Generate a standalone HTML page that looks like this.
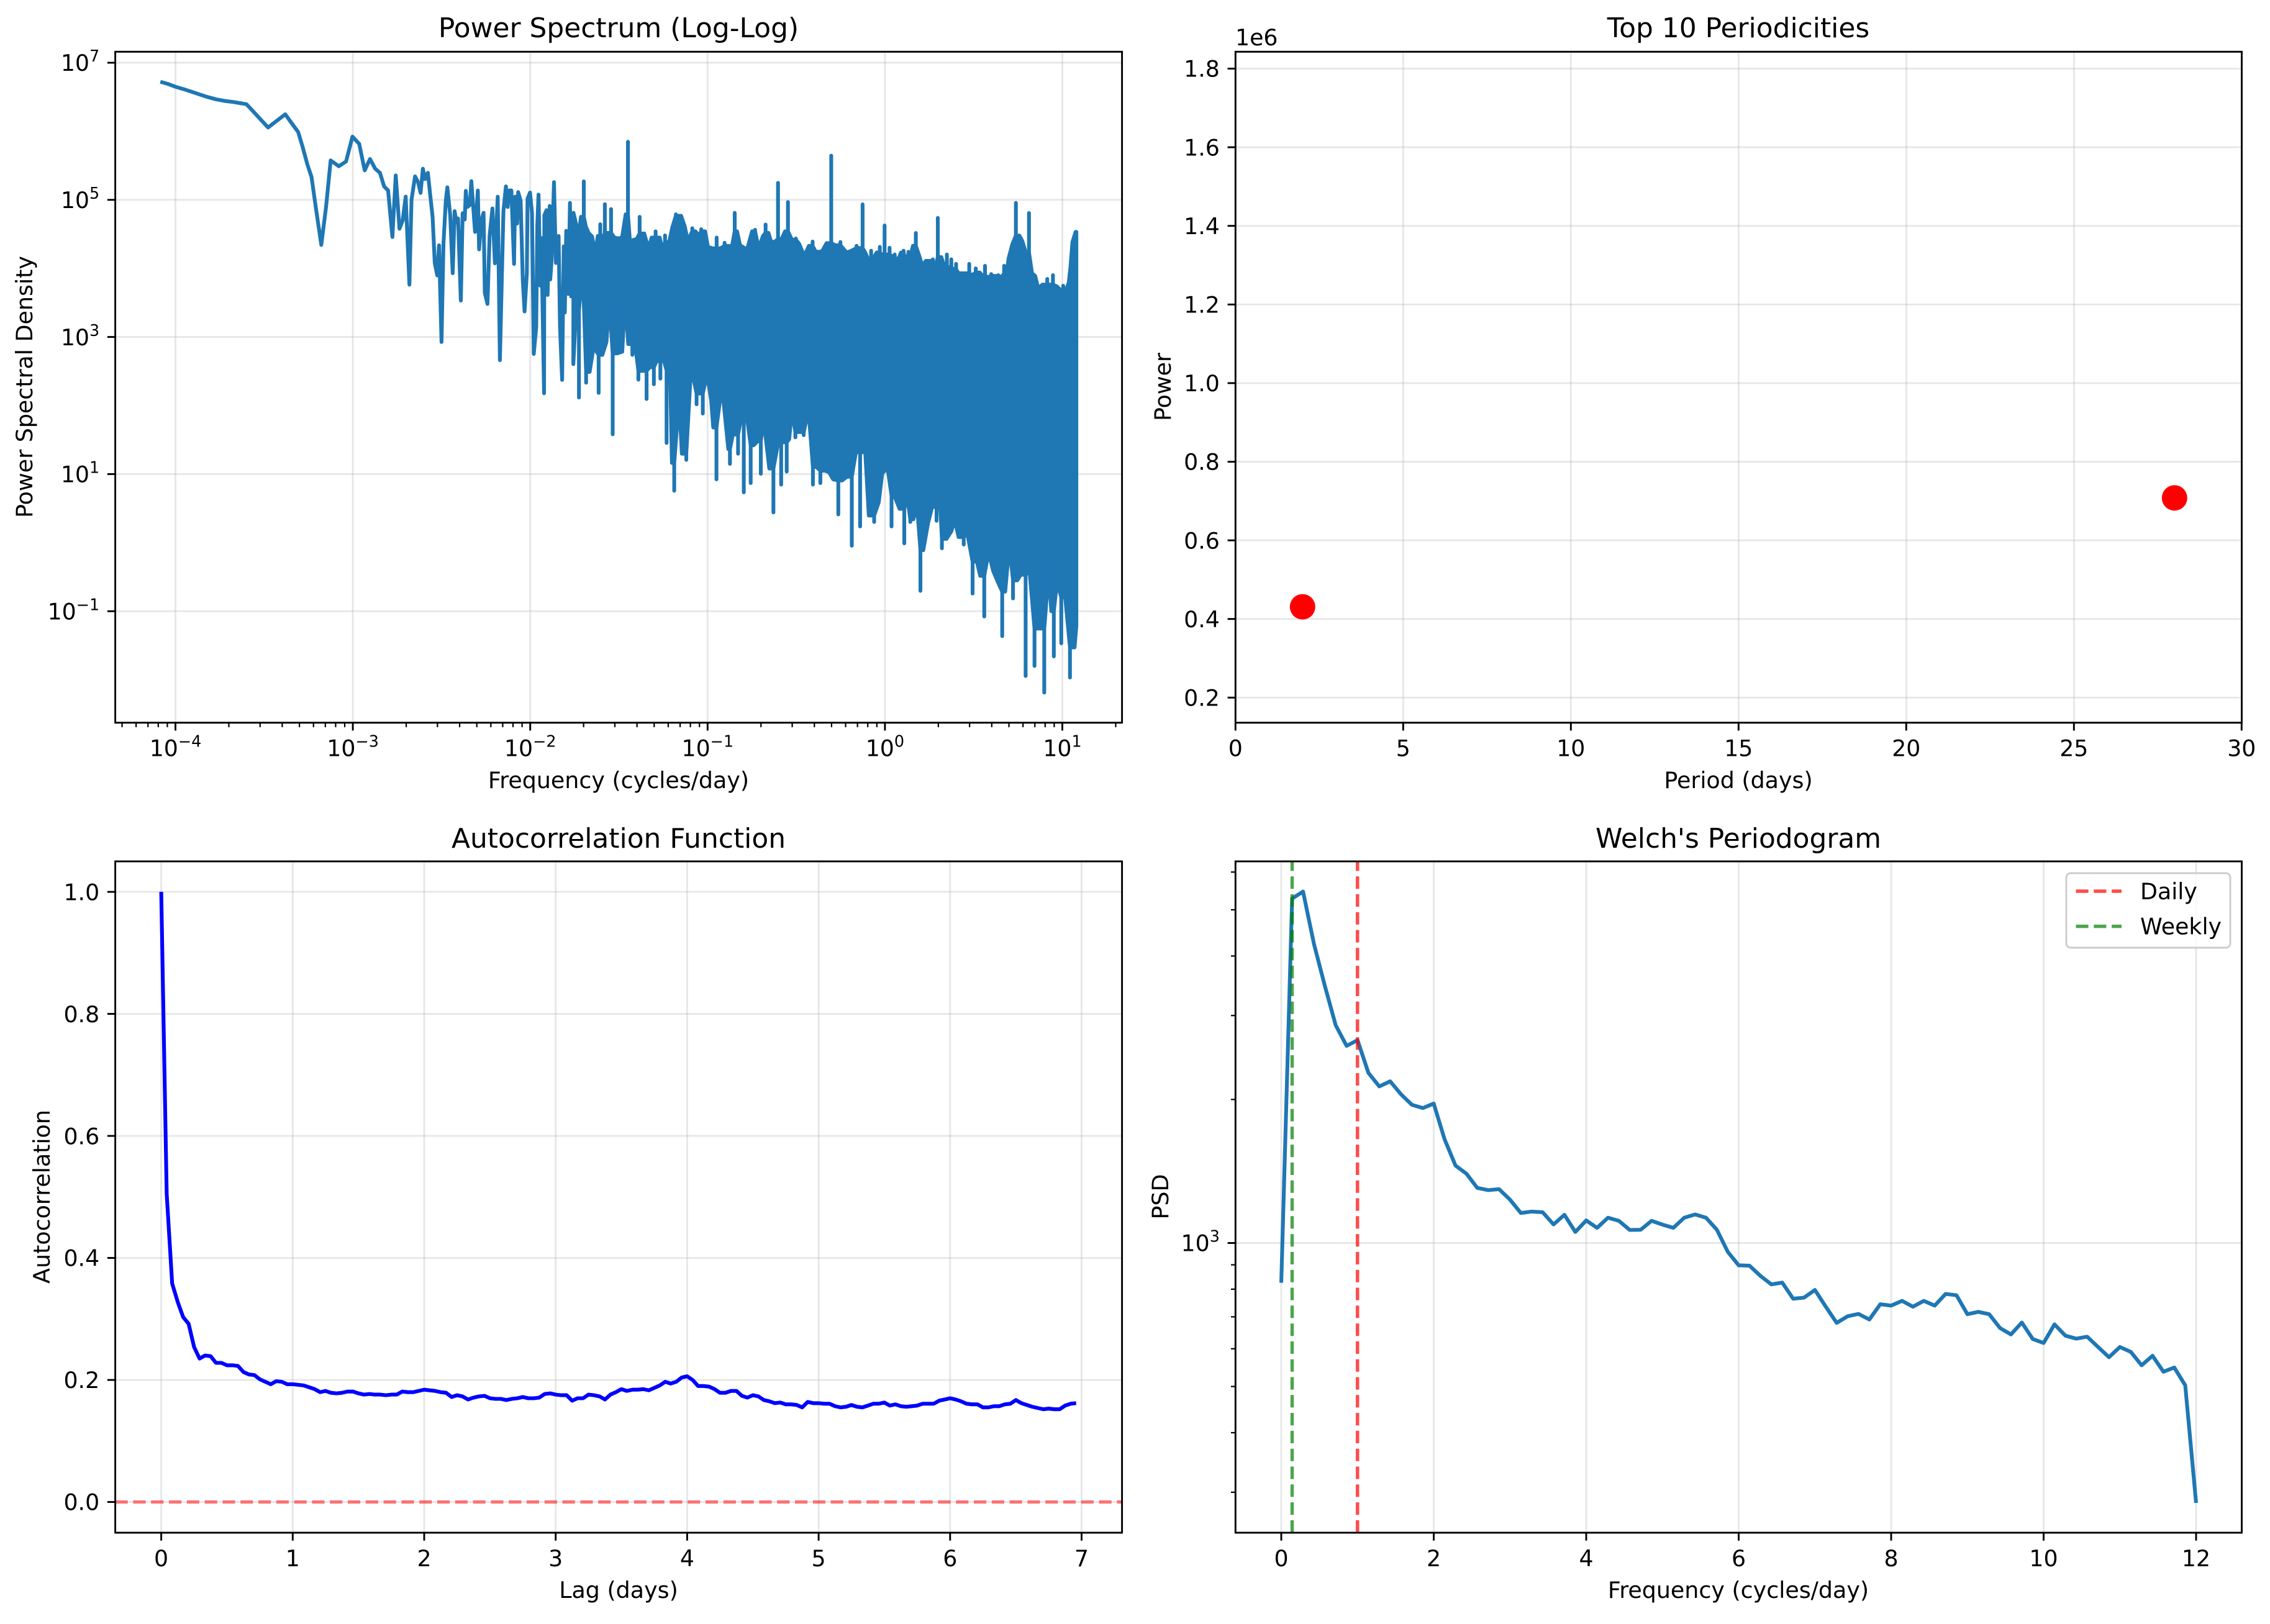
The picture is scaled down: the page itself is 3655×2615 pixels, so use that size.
<!DOCTYPE html>
<html lang="en">
<head>
<meta charset="utf-8">
<title>Spectral analysis charts</title>
<style>
html,body{margin:0;padding:0;background:#fff}
svg{display:block}
text{font-family:"DejaVu Sans","Liberation Sans",sans-serif;fill:#000}
.tick{font-size:36.3px}
.axis-label{font-size:36.4px}
.title{font-size:43.9px}
</style>
</head>
<body>
<svg xmlns="http://www.w3.org/2000/svg" width="3655" height="2615" viewBox="0 0 3655 2615">
<rect x="0" y="0" width="3655" height="2615" fill="#fff"/>

<g>
<g id="p1"></g>
<text class="title" x="996" y="60" text-anchor="middle">Power Spectrum (Log-Log)</text>
<text class="axis-label" x="996" y="1269" text-anchor="middle">Frequency (cycles/day)</text>
<text class="axis-label" x="52" y="623" text-anchor="middle" transform="rotate(-90 52 623)">Power Spectral Density</text>
</g>

<g>
<g id="p2"></g>
<text class="title" x="2799" y="60" text-anchor="middle">Top 10 Periodicities</text>
<text class="axis-label" x="2799" y="1269" text-anchor="middle">Period (days)</text>
<text class="axis-label" x="1885" y="623" text-anchor="middle" transform="rotate(-90 1885 623)">Power</text>
<text class="tick" x="1989" y="73">1e6</text>
</g>

<g>
<g id="p3"></g>
<text class="title" x="996" y="1365" text-anchor="middle">Autocorrelation Function</text>
<text class="axis-label" x="996" y="2573" text-anchor="middle">Lag (days)</text>
<text class="axis-label" x="80" y="1927" text-anchor="middle" transform="rotate(-90 80 1927)">Autocorrelation</text>
</g>

<g>
<g id="p4"></g>
<text class="title" x="2799" y="1365" text-anchor="middle">Welch's Periodogram</text>
<text class="axis-label" x="2799" y="2573" text-anchor="middle">Frequency (cycles/day)</text>
<text class="axis-label" x="1881" y="1927" text-anchor="middle" transform="rotate(-90 1881 1927)">PSD</text>
<g>
<rect x="3327" y="1406" width="264" height="120" rx="7" ry="7" fill="#fff" fill-opacity="0.8" stroke="#cccccc" stroke-width="2.9"/>
<line x1="3342.5" y1="1435" x2="3416" y2="1435" stroke="#ff0000" stroke-opacity="0.7" stroke-width="5.44" stroke-dasharray="20.1 8.7"/>
<text class="tick" x="3446" y="1448">Daily</text>
<line x1="3342.5" y1="1491.6" x2="3416" y2="1491.6" stroke="#008000" stroke-opacity="0.7" stroke-width="5.44" stroke-dasharray="20.1 8.7"/>
<text class="tick" x="3446" y="1504.5">Weekly</text>
</g>
</g>
</svg>

<script>
/* ---------- Power spectrum data (log10 frequency, log10 PSD) ---------- */
const spectrumLowFreqLogF = [-4.085,-4.044,-3.997,-3.950,-3.892,-3.822,-3.770,-3.717,-3.670,-3.600,-3.565,-3.478,-3.381,-3.349,-3.308,-3.283,-3.256,-3.233,-3.209,-3.178,-3.151,-3.125,-3.079,-3.038,-3.002,-2.964,-2.933,-2.903,-2.874,-2.847,-2.824,-2.801,-2.777,-2.758,-2.737,-2.719,-2.702,-2.681,-2.669,-2.649,-2.632,-2.618,-2.605,-2.593,-2.577,-2.550,-2.538,-2.524,-2.514,-2.500,-2.489,-2.476,-2.467,-2.451,-2.437,-2.426,-2.416,-2.407,-2.391,-2.381,-2.369,-2.363,-2.354,-2.340,-2.332,-2.311,-2.295,-2.288,-2.276,-2.263,-2.256,-2.241,-2.229,-2.213,-2.199,-2.183,-2.171,-2.155,-2.151,-2.137,-2.127,-2.118,-2.106,-2.091,-2.085,-2.074,-2.068,-2.054,-2.042,-2.032,-2.019,-2.015,-2.001,-1.990,-1.980,-1.966,-1.960,-1.953,-1.943,-1.937,-1.922,-1.920,-1.908,-1.902,-1.890,-1.887,-1.879,-1.866,-1.855,-1.840,-1.832,-1.820,-1.811,-1.805,-1.797,-1.785,-1.776,-1.768];
const spectrumLowFreqLogP = [6.722,6.692,6.647,6.611,6.562,6.502,6.466,6.441,6.426,6.396,6.300,6.055,6.248,6.133,5.989,5.771,5.514,5.333,4.896,4.343,4.896,5.575,5.490,5.560,5.922,5.816,5.430,5.596,5.454,5.394,5.197,5.137,4.458,5.357,4.579,4.699,5.047,3.763,5.001,5.342,5.258,5.101,5.454,5.303,5.394,4.745,4.080,3.899,4.337,2.927,4.352,4.986,5.182,4.775,3.929,4.835,4.669,4.729,3.531,4.805,4.714,5.131,4.896,4.926,5.273,4.533,5.137,4.277,4.699,4.811,3.642,3.482,4.473,4.874,4.074,5.046,2.661,4.382,4.835,5.197,4.896,5.137,5.137,4.065,5.046,4.654,5.113,4.986,3.839,3.371,3.929,5.016,5.107,4.805,2.752,3.144,4.624,5.077,3.748,4.443,2.178,4.775,4.850,3.612,4.911,3.839,4.141,5.258,4.080,4.473,3.144,2.374,4.322,3.356,4.548,3.627,4.956,3.567];

const spectrumUpperLogF = [-1.756,-1.741,-1.727,-1.714,-1.698,-1.686,-1.671,-1.651,-1.634,-1.619,-1.605,-1.593,-1.579,-1.560,-1.544,-1.525,-1.505,-1.482,-1.462,-1.449,-1.435,-1.420,-1.400,-1.383,-1.357,-1.334,-1.315,-1.293,-1.270,-1.254,-1.240,-1.217,-1.198,-1.179,-1.149,-1.128,-1.112,-1.086,-1.068,-1.050,-1.036,-1.014,-0.998,-0.972,-0.949,-0.928,-0.904,-0.881,-0.863,-0.847,-0.834,-0.817,-0.802,-0.778,-0.749,-0.732,-0.712,-0.688,-0.673,-0.657,-0.642,-0.624,-0.603,-0.583,-0.563,-0.547,-0.525,-0.502,-0.484,-0.455,-0.429,-0.408,-0.391,-0.370,-0.353,-0.329,-0.303,-0.280,-0.251,-0.234,-0.216,-0.189,-0.160,-0.144,-0.126,-0.111,-0.093,-0.078,-0.062,-0.047,-0.029,-0.018,-0.002,0.012,0.026,0.041,0.055,0.070,0.090,0.105,0.117,0.132,0.146,0.158,0.174,0.193,0.210,0.230,0.251,0.270,0.283,0.298,0.318,0.333,0.349,0.362,0.374,0.391,0.401,0.415,0.440,0.461,0.475,0.491,0.512,0.534,0.551,0.564,0.584,0.599,0.619,0.639,0.658,0.672,0.686,0.697,0.718,0.738,0.758,0.775,0.794,0.812,0.829,0.847,0.864,0.888,0.915,0.931,0.947,0.970,0.987,1.005,1.022,1.036,1.046,1.057,1.075,1.079];
const spectrumUpperLogP = [4.811,4.644,4.473,4.752,5.270,4.608,4.518,4.464,4.203,4.473,4.644,4.428,4.937,4.518,4.865,4.450,4.437,4.450,4.788,5.847,4.293,4.414,4.428,4.752,4.509,4.293,4.450,4.541,4.450,4.270,4.482,4.383,4.608,4.788,4.766,4.608,4.405,4.586,4.541,4.473,4.572,4.541,4.315,4.293,4.450,4.293,4.374,4.329,4.315,4.811,4.541,4.338,4.315,4.270,4.541,4.563,4.293,4.473,4.640,4.518,4.392,4.383,5.248,4.428,4.541,4.968,4.419,4.437,4.360,4.180,4.329,4.392,4.248,4.239,4.257,4.369,5.644,4.338,4.385,4.286,4.231,4.258,4.330,4.297,4.934,4.231,4.121,4.258,4.165,4.231,4.313,4.203,4.626,4.203,4.302,4.176,4.203,4.093,4.231,4.258,4.121,4.242,4.203,4.330,4.516,4.187,4.038,4.110,4.110,4.132,4.011,4.736,4.165,4.038,4.203,4.011,4.132,3.984,4.066,3.929,3.929,3.929,4.066,3.901,4.000,3.940,3.890,4.038,3.874,3.918,3.890,3.901,3.874,4.038,3.929,4.148,4.352,4.956,4.478,4.396,4.231,4.808,3.929,3.890,3.709,3.764,3.846,3.764,3.901,3.736,3.692,3.747,3.692,3.791,4.022,4.385,4.533,4.533];

const spectrumLowerLogF = [-1.757,-1.741,-1.725,-1.704,-1.685,-1.665,-1.643,-1.614,-1.593,-1.570,-1.554,-1.535,-1.509,-1.481,-1.465,-1.447,-1.424,-1.410,-1.390,-1.368,-1.344,-1.326,-1.303,-1.287,-1.266,-1.251,-1.231,-1.211,-1.201,-1.188,-1.161,-1.145,-1.120,-1.093,-1.062,-1.044,-1.027,-1.003,-0.980,-0.968,-0.950,-0.919,-0.883,-0.874,-0.858,-0.828,-0.811,-0.796,-0.782,-0.757,-0.741,-0.715,-0.700,-0.683,-0.652,-0.629,-0.601,-0.585,-0.572,-0.554,-0.540,-0.525,-0.505,-0.484,-0.458,-0.443,-0.426,-0.406,-0.387,-0.364,-0.338,-0.315,-0.292,-0.263,-0.242,-0.214,-0.187,-0.164,-0.140,-0.111,-0.091,-0.061,-0.035,-0.015,0.015,0.037,0.053,0.082,0.109,0.126,0.143,0.160,0.181,0.200,0.216,0.243,0.266,0.291,0.307,0.321,0.347,0.374,0.394,0.415,0.444,0.464,0.494,0.518,0.537,0.560,0.584,0.610,0.634,0.661,0.678,0.701,0.722,0.746,0.765,0.793,0.815,0.843,0.870,0.898,0.923,0.938,0.952,0.970,0.994,1.016,1.043,1.069,1.079];
const spectrumLowerLogP = [2.604,3.392,2.117,4.000,2.333,2.491,2.851,2.185,2.739,2.928,3.527,1.581,2.761,2.784,3.572,2.896,2.739,2.919,2.378,2.505,2.095,2.559,2.311,2.649,2.392,2.694,1.455,2.514,1.162,0.757,2.086,1.297,1.207,2.559,2.018,2.176,1.883,2.455,2.086,1.680,0.923,2.288,1.365,1.149,1.577,1.297,1.815,0.734,1.905,0.869,1.419,1.486,1.005,1.779,1.081,0.441,1.477,0.847,1.464,1.036,1.509,1.928,1.536,1.613,1.568,1.793,1.770,0.847,1.104,0.869,1.050,1.027,0.923,0.412,0.907,0.962,-0.044,1.319,0.236,1.319,0.396,0.302,0.588,1.016,1.082,0.236,0.687,0.495,-0.011,0.659,0.302,0.341,0.538,-0.703,-0.110,0.286,0.522,0.319,0.769,-0.082,0.055,0.165,0.330,0.082,-0.027,0.137,-0.742,-0.275,-0.484,-1.077,-0.137,-0.412,-0.560,-1.363,-0.714,-0.044,-0.813,-0.549,-0.467,-1.945,-0.412,-1.797,-1.253,-2.187,-0.429,-1.000,-1.659,-0.577,-1.467,-0.797,-1.967,-1.527,-1.209];

const spectrumXTickExponents = [-4,-3,-2,-1,0,1];
const spectrumYTickExponents = [7,5,3,1,-1];
const minorMultipliers = [2,3,4,5,6,7,8,9];

/* ---------- Top periodicities data ---------- */
const periodDays = [2,28];
const periodPower = [431000,708000];
const periodXTicks = [0,5,10,15,20,25,30];
const periodYTicks = [0.2,0.4,0.6,0.8,1.0,1.2,1.4,1.6,1.8];

/* ---------- Autocorrelation data (one value per hourly lag) ---------- */
const lagsPerDay = 24;
const acfValues = [1.000,0.505,0.358,0.328,0.303,0.292,0.254,0.235,0.240,0.239,0.228,0.228,0.224,0.224,0.223,0.213,0.209,0.208,0.201,0.197,0.193,0.198,0.197,0.193,0.193,0.192,0.191,0.188,0.185,0.180,0.182,0.179,0.178,0.179,0.181,0.181,0.178,0.176,0.177,0.176,0.176,0.175,0.176,0.176,0.181,0.180,0.180,0.182,0.184,0.183,0.182,0.180,0.179,0.172,0.175,0.173,0.168,0.171,0.173,0.174,0.170,0.169,0.169,0.167,0.169,0.170,0.172,0.170,0.170,0.171,0.177,0.178,0.176,0.175,0.175,0.166,0.170,0.170,0.176,0.175,0.173,0.168,0.176,0.180,0.185,0.182,0.184,0.184,0.185,0.183,0.187,0.191,0.197,0.194,0.197,0.204,0.206,0.200,0.190,0.190,0.189,0.185,0.179,0.179,0.182,0.182,0.174,0.171,0.175,0.173,0.167,0.165,0.162,0.163,0.160,0.160,0.159,0.155,0.164,0.162,0.162,0.161,0.161,0.157,0.155,0.156,0.159,0.156,0.155,0.158,0.161,0.161,0.163,0.158,0.160,0.157,0.156,0.157,0.158,0.161,0.161,0.161,0.166,0.168,0.170,0.168,0.165,0.161,0.160,0.160,0.155,0.155,0.157,0.157,0.160,0.161,0.167,0.162,0.159,0.156,0.154,0.152,0.153,0.152,0.152,0.158,0.161,0.162];
const acfXTicks = [0,1,2,3,4,5,6,7];
const acfYTicks = [0.0,0.2,0.4,0.6,0.8,1.0];
const acfReferenceLevel = 0;

/* ---------- Welch periodogram data (one value per 1/7 cycle/day bin) ---------- */
const welchBinsPerCycle = 7;
const welchPsd = [825,5278,5460,4242,3465,2862,2591,2664,2275,2130,2183,2050,1949,1919,1961,1650,1453,1398,1305,1291,1297,1233,1156,1164,1160,1094,1146,1055,1115,1076,1130,1113,1065,1066,1113,1093,1076,1130,1148,1130,1066,958,898,896,853,819,826,764,768,797,735,680,702,710,691,744,739,756,735,756,739,782,777,709,717,709,663,643,681,629,617,675,639,630,636,605,576,605,591,554,580,537,548,503,285];
const welchXTicks = [0,2,4,6,8,10,12];
const welchMajorY = [1000];
const welchMinorY = [300,400,500,600,700,800,900,2000,3000,4000,5000,6000];
const dailyFrequency = 1;
const weeklyFrequency = 1/7;

/* ---------- Layout ---------- */
const SPINE = 2.9, TICK = 12.7, MINOR = 7.3, MINOR_W = 2.2, LW = 6.1, DASH_W = 5.44, GRID = '#b0b0b0';
const box1 = {l:185.6, r:1806.6, t:83.3, b:1163.7};
const box2 = {l:1989.3, r:3609.5, t:83.3, b:1163.7};
const box3 = {l:185.6, r:1806.6, t:1387, b:2468};
const box4 = {l:1989.3, r:3609.5, t:1387, b:2468};

const x1 = lf => 282.5 + (lf + 4) * 285.6;
const y1 = lp => 101 + (7 - lp) * 110.4;
const x2 = d => box2.l + d * 54.0;
const y2 = v => 996.7 - (v / 1e6 - 0.4) * 633;
const x3 = l => 259.6 + l * 211.7;
const y3 = v => 2418.5 - v * 982.4;
const x4 = f => 2063 + f * 122.75;
const y4 = v => 2001.5 - (Math.log10(v) - 3) * 767.6;

const NS = 'http://www.w3.org/2000/svg';
function mk(parent, tag, attrs, name) {
  const el = document.createElementNS(NS, tag);
  for (const k in attrs) el.setAttribute(k, attrs[k]);
  
  
  parent.appendChild(el);
  return el;
}
function hgrid(g, box, y, name) {
  mk(g, 'line', {x1:box.l, x2:box.r, y1:y, y2:y, stroke:GRID, 'stroke-opacity':0.3, 'stroke-width':SPINE}, name);
}
function vgrid(g, box, x, name) {
  mk(g, 'line', {x1:x, x2:x, y1:box.t, y2:box.b, stroke:GRID, 'stroke-opacity':0.3, 'stroke-width':SPINE}, name);
}
function xtick(g, box, x, len, w, name) {
  mk(g, 'line', {x1:x, x2:x, y1:box.b, y2:box.b + len, stroke:'#000', 'stroke-width':w}, name);
}
function ytick(g, box, y, len, w, name) {
  mk(g, 'line', {x1:box.l - len, x2:box.l, y1:y, y2:y, stroke:'#000', 'stroke-width':w}, name);
}
function xlabel(g, box, x, str, name) {
  const t = mk(g, 'text', {x:x, y:box.b + 54, 'text-anchor':'middle', class:'tick'}, name);
  t.textContent = str;
}
function ylabel(g, box, y, str, name) {
  const t = mk(g, 'text', {x:box.l - 25.4, y:y + 13.2, 'text-anchor':'end', class:'tick'}, name);
  t.textContent = str;
}
function powerLabel(g, x, y, anchor, exp, name) {
  const t = mk(g, 'text', {x:x, y:y, 'text-anchor':anchor, class:'tick'}, name);
  const base = document.createElementNS(NS, 'tspan');
  base.textContent = '10';
  t.appendChild(base);
  const sup = document.createElementNS(NS, 'tspan');
  sup.setAttribute('dy', '-15');
  sup.setAttribute('font-size', '25.4');
  sup.textContent = String(exp).replace('-', '\u2212');
  t.appendChild(sup);
}
function spines(g, box, name) {
  mk(g, 'rect', {x:box.l, y:box.t, width:box.r - box.l, height:box.b - box.t, fill:'none', stroke:'#000', 'stroke-width':SPINE}, name);
}
function polyD(xs, ys) {
  return xs.map((x, i) => (i ? 'L' : 'M') + x.toFixed(1) + ' ' + ys[i].toFixed(1)).join('');
}
/* Turn an envelope into a trace whose extremes are vertical needles, as a dense spectrum line looks. */
function needleTrace(logF, logP, sign) {
  const fs = [], ps = [];
  logP.forEach((p, i) => {
    const f = logF[i];
    const inner = i > 0 && i < logP.length - 1;
    const prev = inner ? logP[i - 1] : p;
    const next = inner ? logP[i + 1] : p;
    if (inner && sign * (p - prev) > 0 && sign * (p - next) > 0) {
      const base = sign > 0 ? Math.max(prev, next) : Math.min(prev, next);
      fs.push(f, f, f);
      ps.push(base, p, base);
    } else {
      fs.push(f);
      ps.push(p);
    }
  });
  return {fs, ps};
}

/* ---------- Panel 1: power spectrum ---------- */
(function () {
  const g = document.getElementById('p1');
  spectrumXTickExponents.forEach(e => vgrid(g, box1, x1(e), 'x-gridline'));
  spectrumYTickExponents.forEach(e => hgrid(g, box1, y1(e), 'y-gridline'));
  mk(g, 'path', {
    d: polyD(spectrumLowFreqLogF.map(x1), spectrumLowFreqLogP.map(y1)),
    fill:'none', stroke:'#1f77b4', 'stroke-width':LW, 'stroke-linejoin':'round'
  }, 'power-spectrum-line-low-frequency');
  const up = needleTrace(spectrumUpperLogF, spectrumUpperLogP, 1);
  const lo = needleTrace(spectrumLowerLogF, spectrumLowerLogP, -1);
  const dense = polyD(
    up.fs.map(x1).concat(lo.fs.map(x1).reverse()),
    up.ps.map(y1).concat(lo.ps.map(y1).reverse())
  ) + 'Z';
  mk(g, 'path', {d:dense, fill:'#1f77b4', stroke:'#1f77b4', 'stroke-width':LW, 'stroke-linejoin':'round'}, 'power-spectrum-line-dense-band');
  spines(g, box1, 'power-spectrum-axes-frame');
  spectrumXTickExponents.forEach(e => {
    xtick(g, box1, x1(e), TICK, SPINE, 'x-tick');
    powerLabel(g, x1(e), box1.b + 54, 'middle', e, 'x-tick-label');
  });
  [-5,-4,-3,-2,-1,0,1].forEach(d => minorMultipliers.forEach(m => {
    const x = x1(d + Math.log10(m));
    if (x >= box1.l && x <= box1.r) xtick(g, box1, x, MINOR, MINOR_W, 'x-minor-tick');
  }));
  spectrumYTickExponents.forEach(e => {
    ytick(g, box1, y1(e), TICK, SPINE, 'y-tick');
    powerLabel(g, box1.l - 25.4, y1(e) + 13.2, 'end', e, 'y-tick-label');
  });
})();

/* ---------- Panel 2: top periodicities ---------- */
(function () {
  const g = document.getElementById('p2');
  periodXTicks.forEach(v => vgrid(g, box2, x2(v), 'x-gridline'));
  periodYTicks.forEach(v => hgrid(g, box2, y2(v * 1e6), 'y-gridline'));
  periodDays.forEach((d, i) => {
    mk(g, 'circle', {cx:x2(d), cy:y2(periodPower[i]), r:20.5, fill:'#ff0000'}, 'periodicity-point');
  });
  spines(g, box2, 'top-periodicities-axes-frame');
  periodXTicks.forEach(v => {
    xtick(g, box2, x2(v), TICK, SPINE, 'x-tick');
    xlabel(g, box2, x2(v), String(v), 'x-tick-label');
  });
  periodYTicks.forEach(v => {
    ytick(g, box2, y2(v * 1e6), TICK, SPINE, 'y-tick');
    ylabel(g, box2, y2(v * 1e6), v.toFixed(1), 'y-tick-label');
  });
})();

/* ---------- Panel 3: autocorrelation ---------- */
(function () {
  const g = document.getElementById('p3');
  acfXTicks.forEach(v => vgrid(g, box3, x3(v), 'x-gridline'));
  acfYTicks.forEach(v => hgrid(g, box3, y3(v), 'y-gridline'));
  mk(g, 'path', {
    d: polyD(acfValues.map((v, i) => x3(i / lagsPerDay)), acfValues.map(y3)),
    fill:'none', stroke:'#0000ff', 'stroke-width':LW, 'stroke-linejoin':'round'
  }, 'autocorrelation-line');
  mk(g, 'line', {
    x1:box3.l, x2:box3.r, y1:y3(acfReferenceLevel), y2:y3(acfReferenceLevel),
    stroke:'#ff0000', 'stroke-opacity':0.5, 'stroke-width':DASH_W, 'stroke-dasharray':'20.1 8.7'
  }, 'zero-reference-line');
  spines(g, box3, 'autocorrelation-axes-frame');
  acfXTicks.forEach(v => {
    xtick(g, box3, x3(v), TICK, SPINE, 'x-tick');
    xlabel(g, box3, x3(v), String(v), 'x-tick-label');
  });
  acfYTicks.forEach(v => {
    ytick(g, box3, y3(v), TICK, SPINE, 'y-tick');
    ylabel(g, box3, y3(v), v.toFixed(1), 'y-tick-label');
  });
})();

/* ---------- Panel 4: Welch periodogram ---------- */
(function () {
  const g = document.getElementById('p4');
  welchXTicks.forEach(v => vgrid(g, box4, x4(v), 'x-gridline'));
  welchMajorY.forEach(v => hgrid(g, box4, y4(v), 'y-gridline'));
  mk(g, 'path', {
    d: polyD(welchPsd.map((v, i) => x4(i / welchBinsPerCycle)), welchPsd.map(y4)),
    fill:'none', stroke:'#1f77b4', 'stroke-width':LW, 'stroke-linejoin':'round'
  }, 'welch-psd-line');
  mk(g, 'line', {
    x1:x4(dailyFrequency), x2:x4(dailyFrequency), y1:box4.b, y2:box4.t,
    stroke:'#ff0000', 'stroke-opacity':0.7, 'stroke-width':DASH_W, 'stroke-dasharray':'20.1 8.7'
  }, 'daily-frequency-line');
  mk(g, 'line', {
    x1:x4(weeklyFrequency), x2:x4(weeklyFrequency), y1:box4.b, y2:box4.t,
    stroke:'#008000', 'stroke-opacity':0.7, 'stroke-width':DASH_W, 'stroke-dasharray':'20.1 8.7'
  }, 'weekly-frequency-line');
  spines(g, box4, 'welch-periodogram-axes-frame');
  welchXTicks.forEach(v => {
    xtick(g, box4, x4(v), TICK, SPINE, 'x-tick');
    xlabel(g, box4, x4(v), String(v), 'x-tick-label');
  });
  welchMajorY.forEach(v => {
    ytick(g, box4, y4(v), TICK, SPINE, 'y-tick');
    powerLabel(g, box4.l - 25.4, y4(v) + 13.2, 'end', Math.log10(v), 'y-tick-label');
  });
  welchMinorY.forEach(v => ytick(g, box4, y4(v), MINOR, MINOR_W, 'y-minor-tick'));
})();
</script>
</body>
</html>
